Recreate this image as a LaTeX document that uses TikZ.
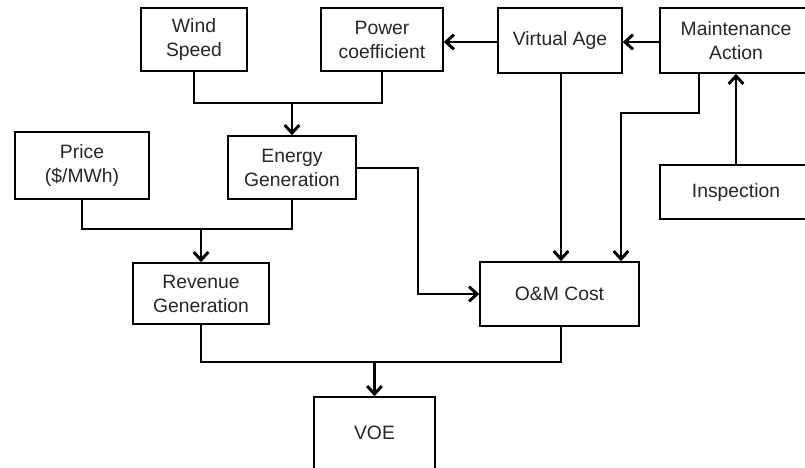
\documentclass[tikz,border=0pt]{standalone}
\usepackage{fontspec}
\setmainfont{Liberation Sans}
\usetikzlibrary{arrows.meta}
\begin{document}
\begin{tikzpicture}[x=0.75pt,y=-0.75pt,
  box/.style={draw=black,line width=1.2pt,fill=white,inner sep=0pt,align=center,
    font=\fontsize{14.5}{18}\selectfont,text=black!85},
  conn/.style={line width=2.2pt,black},
  arr/.style={conn,-{Straight Barb[length=6pt,width=11pt,line width=2.2pt]}}]
\useasboundingbox (0,0) rectangle (805,467);
\fill[white] (0,0) rectangle (805,467);
\node[box,minimum width=79.5pt,minimum height=47.25pt] (wind) at (194,39.5) {Wind\\Speed};
\node[box,minimum width=91.5pt,minimum height=47.25pt] (power) at (382,39.5) {Power\\coefficient};
\node[box,minimum width=93pt,minimum height=48.75pt] (vage) at (560,40.5) {Virtual Age};
\node[box,minimum width=114pt,minimum height=48.75pt] (maint) at (736,40.5) {Maintenance\\Action};
\node[box,minimum width=114pt,minimum height=40.5pt] (insp) at (736,192) {Inspection};
\node[box,minimum width=100.5pt,minimum height=50.25pt] (price) at (82,165.5) {Price\\(\$/MWh)};
\node[box,minimum width=96pt,minimum height=47.25pt] (energy) at (292,167.5) {Energy\\Generation};
\node[box,minimum width=102pt,minimum height=45.75pt] (rev) at (201,293.5) {Revenue\\Generation};
\node[box,minimum width=119.25pt,minimum height=48pt] (om) at (559.5,294) {O\&M Cost};
\node[box,minimum width=90.75pt,minimum height=54pt] (voe) at (374.5,433) {VOE};
\coordinate (j1) at (292,103);
\coordinate (j2) at (201,229);
\coordinate (j3) at (374.5,362);
\coordinate (m1) at (699,113);
\coordinate (m2) at (621,113);
\coordinate (e1) at (418,168);
\coordinate (h) at (0,42);
% wind + power -> energy
\draw[conn] (wind.south) -- (wind.south |- j1) -- (power.south |- j1) -- (power.south);
\draw[arr] (j1) -- (energy.north);
% price + energy -> revenue
\draw[conn] (price.south) -- (price.south |- j2) -- (energy.south |- j2) -- (energy.south);
\draw[arr] (j2) -- (rev.north);
% energy -> O&M
\draw[arr] (energy.east |- e1) -- (e1) -- (e1 |- om.west) -- (om.west);
% virtual age -> O&M
\draw[arr] (vage.south -| 561,0) -- (561,0 |- om.north);
% maintenance -> O&M
\draw[arr] (maint.south -| m1) -- (m1) -- (m2) -- (m2 |- om.north);
% inspection -> maintenance
\draw[arr] (insp.north) -- (maint.south);
% top arrows
\draw[arr] (maint.west |- h) -- (vage.east |- h);
\draw[arr] (vage.west |- h) -- (power.east |- h);
% revenue + O&M -> VOE
\draw[conn] (rev.south) -- (rev.south |- j3) -- (561,362) -- (561,0 |- om.south);
\draw[arr] (j3) -- (voe.north);
\end{tikzpicture}
\end{document}
